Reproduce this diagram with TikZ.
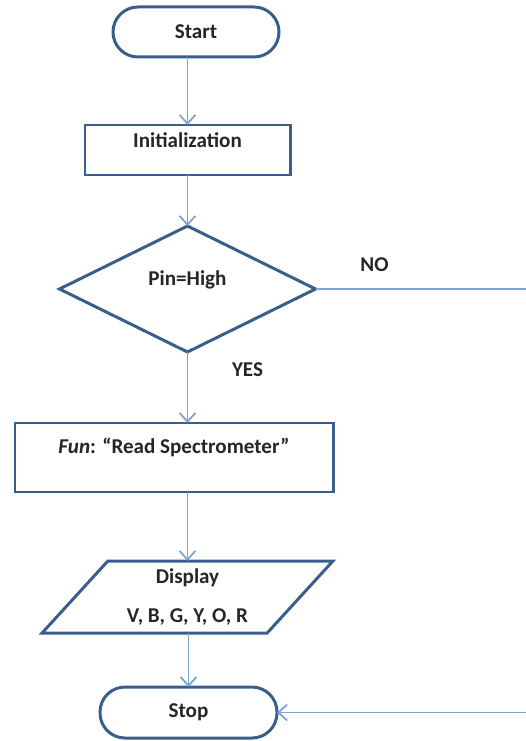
\documentclass[tikz,border=0pt]{standalone}
\usepackage{fontspec}
\setmainfont{Carlito}
\usepackage{xcolor}
\usetikzlibrary{shapes.geometric,arrows.meta,positioning,calc}

\definecolor{shapeblue}{HTML}{3A5E8C}
\definecolor{linkblue}{HTML}{7BA2D2}

\begin{document}
\begin{tikzpicture}[
    font=\fontsize{12}{14.4}\selectfont\bfseries,
    text=black!85,
    terminal/.style={rectangle, rounded corners=0.5cm, draw=shapeblue, line width=1.7pt, outer sep=0pt, minimum height=1cm, text centered},
    process/.style={rectangle, draw=shapeblue, line width=1.7pt, outer sep=0pt, text centered},
    decision/.style={diamond, draw=shapeblue, line width=1.7pt, outer sep=0pt, inner sep=0pt, minimum width=5.12cm, minimum height=2.52cm},
    io/.style={trapezium, trapezium left angle=51, trapezium right angle=129, trapezium stretches=true, draw=shapeblue, line width=1.7pt, outer sep=0pt, minimum width=5.82cm, minimum height=1.44cm, align=center},
    lbl/.style={inner sep=0pt},
    arrow/.style={-{Straight Barb[length=5pt, width=9pt]}, draw=linkblue, line width=1pt}
]
\useasboundingbox (0,0) rectangle (10.52,-14.82);

% Flow
\node[terminal, minimum width=3.32cm] (start) at (3.92,-0.64) {Start};
\node[process, below=1.36cm of start, xshift=-0.17cm, minimum width=4.1cm, minimum height=1cm, text depth=0.38cm] (init) {Initialization};
\node[decision, below=1.02cm of init, text depth=0.45cm] (dec) {Pin=High};
\node[process, below=1.42cm of dec, xshift=-0.27cm, minimum width=6.36cm, minimum height=1.38cm, text depth=0.47cm] (read) {\textit{Fun}: “Read Spectrometer”};
\node[io, below=1.38cm of read, xshift=0.27cm] (disp) {Display\\[0.26cm]V, B, G, Y, O, R};
\node[terminal, below=1.08cm of disp, xshift=0.02cm, minimum width=3.54cm, minimum height=1.02cm] (stop) {Stop};

% Labels
\node[lbl] (no) at ([xshift=1.18cm, yshift=0.48cm]dec.east) {NO};
\node[lbl] (yes) at ([xshift=1.2cm, yshift=-0.36cm]dec.south) {YES};

% Edge of the page
\coordinate (edge) at (10.7,0);

% Arrows
\draw[arrow] (start.south -| init.north) -- (init.north);
\draw[arrow] (init) -- (dec);
\draw[arrow] (dec.south) -- (dec.south |- read.north);
\draw[arrow] (read.south -| disp.north) -- (disp.north);
\draw[arrow] (disp.south -| stop.north) -- (stop.north);
\draw[arrow] (dec.east) -- (dec.east -| edge) |- (stop.east);
\end{tikzpicture}
\end{document}
